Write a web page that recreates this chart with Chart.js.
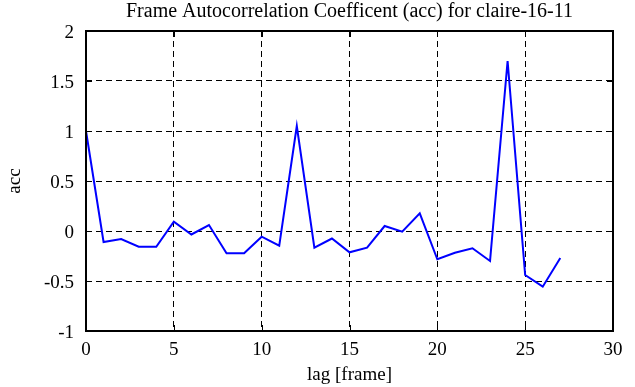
<!DOCTYPE html>
<html>
<head>
<meta charset="utf-8">
<script src="https://cdn.jsdelivr.net/npm/chart.js@4/dist/chart.umd.min.js"></script>
<style>
  html, body { margin: 0; padding: 0; background: #ffffff; }
  #wrap { width: 635px; height: 387px; }
</style>
</head>
<body>
<div id="wrap"><canvas id="c" width="635" height="387"></canvas></div>
<script>
// ---- data ----
const lags = [0, 1, 2, 3, 4, 5, 6, 7, 8, 9, 10, 11, 12, 13, 14, 15, 16, 17, 18, 19, 20, 21, 22, 23, 24, 25, 26, 27];
const acc  = [1.0, -0.11, -0.08, -0.157, -0.157, 0.093, -0.035, 0.06, -0.223, -0.223, -0.057, -0.147, 1.05, -0.167, -0.075, -0.213,
              -0.167, 0.05, -0.007, 0.177, -0.283, -0.217, -0.173, -0.3, 1.7, -0.44, -0.557, -0.27];
const xTickLabels = ["0", "5", "10", "15", "20", "25", "30"];
const yTickLabels = ["-1", "-0.5", "0", "0.5", "1", "1.5", "2"];
const titleText = "Frame Autocorrelation Coefficent (acc) for claire-16-11";
const xTitle = "lag [frame]";
const yTitle = "acc";

const FONT = "'Liberation Serif', 'Times New Roman', serif";

const points = lags.map((x, i) => ({ x: x, y: acc[i] }));

// title centred over the plot area, plus the closed frame with inward tick marks
const frameTicks = {
  id: 'frameTicks',
  afterDraw(chart) {
    const { ctx, chartArea: a, scales } = chart;
    ctx.save();
    ctx.fillStyle = '#000';
    ctx.font = "20px " + FONT;
    ctx.textAlign = 'center';
    ctx.textBaseline = 'middle';
    ctx.fillText(titleText, (a.left + a.right) / 2, 12);

    ctx.strokeStyle = '#000';
    ctx.setLineDash([]);
    ctx.lineWidth = 1;
    const len = 6;
    scales.x.ticks.forEach(t => {
      const px = Math.round(scales.x.getPixelForValue(t.value)) + 0.5;
      ctx.beginPath();
      ctx.moveTo(px, a.bottom); ctx.lineTo(px, a.bottom - len);
      ctx.moveTo(px, a.top); ctx.lineTo(px, a.top + len);
      ctx.stroke();
    });
    scales.y.ticks.forEach(t => {
      const py = Math.round(scales.y.getPixelForValue(t.value)) + 0.5;
      ctx.beginPath();
      ctx.moveTo(a.left, py); ctx.lineTo(a.left + len, py);
      ctx.moveTo(a.right, py); ctx.lineTo(a.right - len, py);
      ctx.stroke();
    });
    ctx.lineWidth = 2;
    ctx.strokeRect(a.left, a.top, a.right - a.left, a.bottom - a.top);
    ctx.restore();
  }
};

new Chart(document.getElementById('c'), {
  type: 'line',
  data: {
    datasets: [{
      data: points,
      borderColor: '#0000ff',
      borderWidth: 2,
      pointRadius: 0,
      tension: 0,
      fill: false
    }]
  },
  options: {
    responsive: false,
    animation: false,
    devicePixelRatio: 1,
    layout: { padding: { left: 0, right: 22, top: 31, bottom: 0 } },
    plugins: {
      legend: { display: false },
      tooltip: { enabled: false },
      title: { display: false }
    },
    scales: {
      x: {
        type: 'linear',
        min: 0, max: 30,
        afterFit: s => { s.height = 56; },
        afterBuildTicks: s => { s.ticks = xTickLabels.map(v => ({ value: Number(v) })); },
        ticks: {
          callback: (v) => { const i = xTickLabels.indexOf(String(v)); return i >= 0 ? xTickLabels[i] : ''; },
          color: '#000',
          font: { family: FONT, size: 19 },
          padding: 8,
          maxRotation: 0,
          autoSkip: false
        },
        grid: { color: '#000', lineWidth: 1, drawTicks: false, tickLength: 0 },
        border: { display: false, dash: [6, 4] },
        title: {
          display: true, text: xTitle, color: '#000',
          font: { family: FONT, size: 19 },
          padding: { top: 0, bottom: 1 }
        }
      },
      y: {
        type: 'linear',
        min: -1, max: 2,
        afterFit: s => { s.width = 86; },
        afterBuildTicks: s => { s.ticks = yTickLabels.map(v => ({ value: Number(v) })); },
        ticks: {
          callback: (v) => { const i = yTickLabels.map(Number).indexOf(v); return i >= 0 ? yTickLabels[i] : ''; },
          color: '#000',
          font: { family: FONT, size: 19 },
          padding: 12,
          labelOffset: 2,
          autoSkip: false
        },
        grid: { color: '#000', lineWidth: 1, drawTicks: false, tickLength: 0 },
        border: { display: false, dash: [6, 4] },
        title: {
          display: true, text: yTitle, color: '#000',
          font: { family: FONT, size: 19 },
          padding: { top: 4, bottom: 0 }
        }
      }
    }
  },
  plugins: [frameTicks]
});
</script>
</body>
</html>
